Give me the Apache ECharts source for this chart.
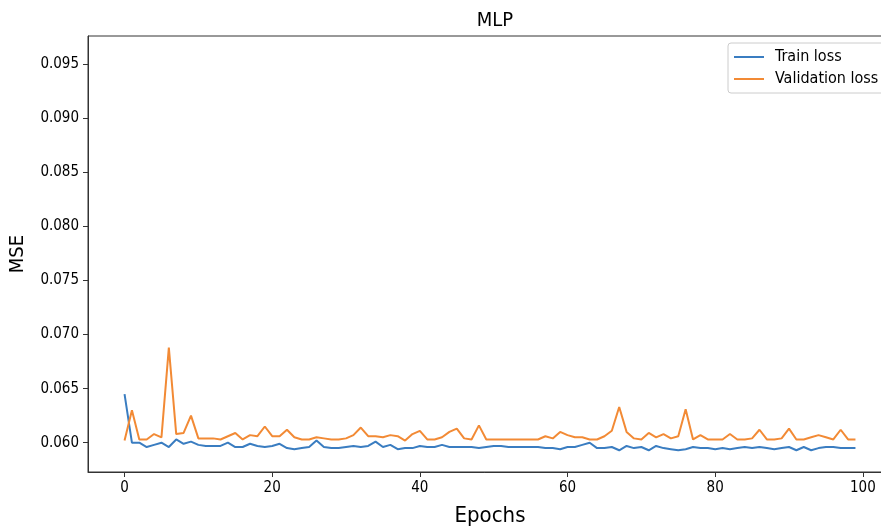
<!DOCTYPE html>
<html>
<head>
<meta charset="utf-8">
<title>MLP</title>
<script src="https://cdn.jsdelivr.net/npm/echarts@6/dist/echarts.min.js"></script>
<style>
  html, body { margin: 0; padding: 0; background: #fff; }
  #chart { width: 881px; height: 527px; }
</style>
</head>
<body>
<div id="chart"></div>
<script>
// loss per epoch
var trainLoss = [
  0.0645, 0.0600, 0.0600, 0.0596, 0.0598, 0.0600, 0.0596, 0.0603, 0.0599, 0.0601,
  0.0598, 0.0597, 0.0597, 0.0597, 0.0600, 0.0596, 0.0596, 0.0599, 0.0597, 0.0596,
  0.0597, 0.0599, 0.0595, 0.0594, 0.0595, 0.0596, 0.0602, 0.0596, 0.0595, 0.0595,
  0.0596, 0.0597, 0.0596, 0.0597, 0.0601, 0.0596, 0.0598, 0.0594, 0.0595, 0.0595,
  0.0597, 0.0596, 0.0596, 0.0598, 0.0596, 0.0596, 0.0596, 0.0596, 0.0595, 0.0596,
  0.0597, 0.0597, 0.0596, 0.0596, 0.0596, 0.0596, 0.0596, 0.0595, 0.0595, 0.0594,
  0.0596, 0.0596, 0.0598, 0.0600, 0.0595, 0.0595, 0.0596, 0.0593, 0.0597, 0.0595,
  0.0596, 0.0593, 0.0597, 0.0595, 0.0594, 0.0593, 0.0594, 0.0596, 0.0595, 0.0595,
  0.0594, 0.0595, 0.0594, 0.0595, 0.0596, 0.0595, 0.0596, 0.0595, 0.0594, 0.0595,
  0.0596, 0.0593, 0.0596, 0.0593, 0.0595, 0.0596, 0.0596, 0.0595, 0.0595, 0.0595
];
var valLoss = [
  0.0602, 0.0630, 0.0603, 0.0603, 0.0608, 0.0605, 0.0688, 0.0608, 0.0609, 0.0625,
  0.0604, 0.0604, 0.0604, 0.0603, 0.0606, 0.0609, 0.0603, 0.0607, 0.0606, 0.0615,
  0.0606, 0.0606, 0.0612, 0.0605, 0.0603, 0.0603, 0.0605, 0.0604, 0.0603, 0.0603,
  0.0604, 0.0607, 0.0614, 0.0606, 0.0606, 0.0605, 0.0607, 0.0606, 0.0602, 0.0608,
  0.0611, 0.0603, 0.0603, 0.0605, 0.0610, 0.0613, 0.0604, 0.0603, 0.0616, 0.0603,
  0.0603, 0.0603, 0.0603, 0.0603, 0.0603, 0.0603, 0.0603, 0.0606, 0.0604, 0.0610,
  0.0607, 0.0605, 0.0605, 0.0603, 0.0603, 0.0606, 0.0611, 0.0633, 0.0610, 0.0604,
  0.0603, 0.0609, 0.0605, 0.0608, 0.0604, 0.0606, 0.0631, 0.0603, 0.0607, 0.0603,
  0.0603, 0.0603, 0.0608, 0.0603, 0.0603, 0.0604, 0.0612, 0.0603, 0.0603, 0.0604,
  0.0613, 0.0603, 0.0603, 0.0605, 0.0607, 0.0605, 0.0603, 0.0612, 0.0603, 0.0603
];
var xTicks = [0, 20, 40, 60, 80, 100];
var yTicks = [0.060, 0.065, 0.070, 0.075, 0.080, 0.085, 0.090, 0.095];

var FONT = "'DejaVu Sans Condensed', 'DejaVu Sans', sans-serif";

function pairs(arr) {
  return arr.map(function (v, i) { return [i, v]; });
}

var chart = echarts.init(document.getElementById('chart'), null, { renderer: 'canvas' });
chart.setOption({
  animation: false,
  backgroundColor: '#fff',
  title: {
    text: 'MLP',
    left: 490,
    top: 6,
    textAlign: 'center',
    textStyle: { fontFamily: FONT, fontSize: 20, fontWeight: 'normal', color: '#000' }
  },
  legend: {
    orient: 'vertical',
    left: 728,
    top: 43,
    padding: [6, 14, 6, 5],
    itemGap: 6,
    itemWidth: 30,
    itemHeight: 2,
    borderColor: '#cccccc',
    borderWidth: 1,
    borderRadius: 3,
    backgroundColor: 'rgba(255,255,255,0.8)',
    textStyle: { fontFamily: FONT, fontSize: 16, color: '#000', padding: [0, 0, 0, 6] },
    data: ['Train loss', 'Validation loss']
  },
  grid: {
    left: 88, top: 36, bottom: 55, right: -11,
    outerBoundsMode: 'none',
    containLabel: false,
    show: true, borderColor: '#333', borderWidth: 1
  },
  xAxis: {
    type: 'value',
    min: -4.95,
    max: 103.95,
    name: 'Epochs',
    nameLocation: 'middle',
    nameGap: 33,
    nameTextStyle: { fontFamily: FONT, fontSize: 22, color: '#000' },
    axisLine: { show: true, onZero: false, lineStyle: { color: '#333' } },
    splitLine: { show: false },
    axisTick: { show: true, length: 5, lineStyle: { color: '#333' }, customValues: xTicks },
    axisLabel: { fontFamily: FONT, fontSize: 15, color: '#000', margin: 9, customValues: xTicks }
  },
  yAxis: {
    type: 'value',
    min: 0.05729,
    max: 0.09762,
    name: 'MSE',
    nameLocation: 'middle',
    nameRotate: 90,
    nameGap: 60,
    nameTextStyle: { fontFamily: FONT, fontSize: 20, color: '#000' },
    axisLine: { show: true, onZero: false, lineStyle: { color: '#333' } },
    splitLine: { show: false },
    axisTick: { show: true, length: 5, lineStyle: { color: '#333' }, customValues: yTicks },
    axisLabel: {
      fontFamily: FONT, fontSize: 15, color: '#000', margin: 9,
      customValues: yTicks,
      formatter: function (v) { return v.toFixed(3); }
    }
  },
  series: [
    {
      name: 'Train loss',
      type: 'line',
      data: pairs(trainLoss),
      symbol: 'none',
      lineStyle: { width: 2, color: '#3a7dc1' },
      itemStyle: { color: '#3a7dc1' }
    },
    {
      name: 'Validation loss',
      type: 'line',
      data: pairs(valLoss),
      symbol: 'none',
      lineStyle: { width: 2, color: '#f28a35' },
      itemStyle: { color: '#f28a35' }
    }
  ]
});
</script>
</body>
</html>
